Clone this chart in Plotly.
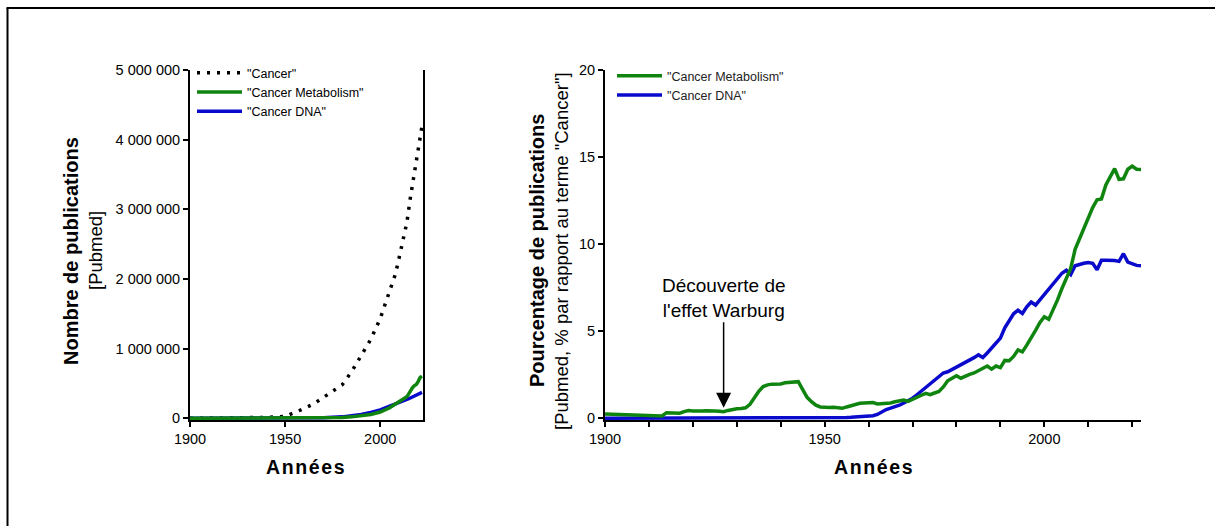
import plotly.graph_objects as go

# ---------------- DATA ----------------
# Right panel: yearly percentages relative to "Cancer" (1900-2022)
years = list(range(1900, 2023))
metab_pct = [
    0.25, 0.24, 0.23, 0.22, 0.21, 0.20, 0.20, 0.19, 0.18, 0.17,   # 1900-1909
    0.16, 0.15, 0.14, 0.13, 0.32, 0.31, 0.30, 0.29, 0.38, 0.44,   # 1910-1919
    0.42, 0.40, 0.42, 0.43, 0.44, 0.42, 0.40, 0.38, 0.45, 0.51,   # 1920-1929
    0.55, 0.56, 0.60, 0.80, 1.20, 1.55, 1.82, 1.92, 1.96, 1.96,   # 1930-1939
    1.97, 2.04, 2.06, 2.08, 2.10, 1.65, 1.20, 0.95, 0.75, 0.65,   # 1940-1949
    0.61, 0.62, 0.63, 0.60, 0.57, 0.65, 0.72, 0.80, 0.86, 0.88,   # 1950-1959
    0.91, 0.90, 0.82, 0.83, 0.85, 0.88, 0.95, 1.00, 1.05, 0.97,   # 1960-1969
    1.10, 1.22, 1.32, 1.43, 1.35, 1.45, 1.54, 1.80, 2.15, 2.30,   # 1970-1979
    2.44, 2.30, 2.42, 2.52, 2.60, 2.75, 2.88, 3.00, 2.82, 3.00,   # 1980-1989
    2.91, 3.32, 3.30, 3.55, 3.92, 3.81, 4.20, 4.60, 5.05, 5.50,   # 1990-1999
    5.83, 5.68, 6.20, 6.80, 7.45, 8.00, 8.60, 9.70, 10.30, 10.90, # 2000-2009
    11.50, 12.10, 12.55, 12.60, 13.40, 13.90, 14.34, 13.72, 13.75, 14.30,  # 2010-2019
    14.48, 14.30, 14.29,                                          # 2020-2022
]
dna_pct = [
    0.00, 0.00, 0.00, 0.00, 0.00, 0.00, 0.00, 0.00, 0.00, 0.00,   # 1900-1909
    0.00, 0.00, 0.00, 0.00, 0.00, 0.00, 0.00, 0.00, 0.00, 0.00,   # 1910-1919
    0.00, 0.00, 0.00, 0.00, 0.00, 0.00, 0.00, 0.00, 0.00, 0.00,   # 1920-1929
    0.00, 0.00, 0.00, 0.00, 0.00, 0.00, 0.00, 0.00, 0.00, 0.00,   # 1930-1939
    0.00, 0.00, 0.00, 0.00, 0.00, 0.00, 0.00, 0.00, 0.00, 0.01,   # 1940-1949
    0.02, 0.02, 0.03, 0.03, 0.04, 0.05, 0.06, 0.07, 0.08, 0.10,   # 1950-1959
    0.12, 0.15, 0.22, 0.38, 0.50, 0.58, 0.65, 0.75, 0.88, 1.00,   # 1960-1969
    1.15, 1.35, 1.55, 1.75, 1.95, 2.15, 2.35, 2.60, 2.67, 2.80,   # 1970-1979
    2.95, 3.08, 3.20, 3.33, 3.48, 3.64, 3.49, 3.75, 4.02, 4.30,   # 1980-1989
    4.60, 5.20, 5.65, 6.00, 6.20, 6.02, 6.40, 6.67, 6.50, 6.80,   # 1990-1999
    7.10, 7.42, 7.75, 8.05, 8.33, 8.50, 8.25, 8.76, 8.85, 8.90,   # 2000-2009
    8.95, 8.90, 8.53, 9.07, 9.08, 9.08, 9.06, 9.01, 9.45, 8.97,   # 2010-2019
    8.85, 8.78, 8.76,                                             # 2020-2022
]

# Left panel: cumulative publication counts (PubMed)
cancer_years = [1900, 1920, 1940, 1950, 1955, 1960, 1965, 1970, 1975, 1980,
                1985, 1990, 1995, 2000, 2005, 2008, 2010, 2012, 2014, 2016,
                2018, 2020, 2022]
cancer_counts = [0, 4000, 12000, 25000, 80000, 140000, 205000, 300000, 380000, 480000,
                 670000, 890000, 1130000, 1430000, 1830000, 2070000, 2310000, 2570000,
                 2810000, 3190000, 3530000, 3870000, 4200000]

metab_years = [1900, 1950, 1960, 1970, 1975, 1980, 1985, 1990, 1995, 2000,
               2005, 2008, 2010, 2012, 2014, 2015, 2016, 2017, 2018, 2019,
               2020, 2021, 2022]
metab_counts = [0, 1000, 2000, 4000, 6000, 12000, 20000, 32000, 55000, 90000,
                150000, 205000, 240000, 275000, 310000, 350000, 400000, 440000,
                470000, 486000, 530000, 585000, 605000]

dna_years = [1900, 1950, 1960, 1970, 1980, 1985, 1990, 1995, 2000, 2005,
             2010, 2015, 2018, 2020, 2022]
dna_counts = [0, 1000, 3000, 8000, 20000, 35000, 55000, 85000, 120000, 175000,
              225000, 280000, 320000, 345000, 371000]

x_tickvals = [1900, 1950, 2000]
left_y_tickvals = [0, 1000000, 2000000, 3000000, 4000000, 5000000]
left_y_ticktext = ["0", "1 000 000", "2 000 000", "3 000 000", "4 000 000", "5 000 000"]
right_y_tickvals = [0, 5, 10, 15, 20]

names = ['"Cancer"', '"Cancer Metabolism"', '"Cancer DNA"']

# ---------------- STYLE ----------------
W, H = 1215, 526
FONT = "Liberation Sans, Arial, sans-serif"
GREEN = "#0f850f"
BLUE = "#0a0acc"


def px_x(p):
    return p / W


def px_y(p):
    return 1 - p / H


fig = go.Figure()

fig.add_trace(go.Scatter(x=cancer_years, y=cancer_counts, mode="lines", name=names[0],
                         line=dict(color="black", width=3.5, dash="3px,7px"),
                         xaxis="x", yaxis="y", legend="legend", legendrank=1))
fig.add_trace(go.Scatter(x=dna_years, y=dna_counts, mode="lines", name=names[2],
                         line=dict(color=BLUE, width=3.5),
                         xaxis="x", yaxis="y", legend="legend", legendrank=3))
fig.add_trace(go.Scatter(x=metab_years, y=metab_counts, mode="lines", name=names[1],
                         line=dict(color=GREEN, width=3.5),
                         xaxis="x", yaxis="y", legend="legend", legendrank=2))

fig.add_trace(go.Scatter(x=years, y=dna_pct, mode="lines", name=names[2],
                         line=dict(color=BLUE, width=3.5),
                         xaxis="x2", yaxis="y2", legend="legend2", legendrank=2))
fig.add_trace(go.Scatter(x=years, y=metab_pct, mode="lines", name=names[1],
                         line=dict(color=GREEN, width=3.5),
                         xaxis="x2", yaxis="y2", legend="legend2", legendrank=1))

axis_common = dict(showline=True, linewidth=2, linecolor="black", ticks="outside",
                   ticklen=5, tickwidth=1.5, tickcolor="black", showgrid=False,
                   zeroline=False, automargin=False,
                   tickfont=dict(family=FONT, size=14.5, color="black"))

ydom = [px_y(420), px_y(70)]

fig.update_layout(
    width=W, height=H,
    autosize=False,
    margin=dict(l=0, r=0, t=0, b=0, pad=0, autoexpand=False),
    paper_bgcolor="white", plot_bgcolor="white",
    font=dict(family=FONT, color="black"),
    xaxis=dict(domain=[px_x(190), px_x(423)], range=[1900, 2022.5],
               tickvals=x_tickvals, anchor="y", **axis_common),
    yaxis=dict(domain=ydom, range=[-25000, 5000000], tickvals=left_y_tickvals,
               ticktext=left_y_ticktext, anchor="x", mirror=True, **axis_common),
    xaxis2=dict(domain=[px_x(605), px_x(1141)], range=[1900, 2022],
                tickvals=x_tickvals, anchor="y2",
                minor=dict(dtick=10, tick0=1900, ticks="outside", ticklen=5,
                           tickwidth=1.5, tickcolor="black"),
                **axis_common),
    yaxis2=dict(domain=ydom, range=[-0.1, 20], tickvals=right_y_tickvals,
                anchor="x2", **axis_common),
    legend=dict(x=px_x(192), y=px_y(58), xanchor="left", yanchor="top",
                bgcolor="rgba(0,0,0,0)", font=dict(family=FONT, size=12.5, color="black"),
                tracegroupgap=0, itemwidth=45, traceorder="normal"),
    legend2=dict(x=px_x(612), y=px_y(61), xanchor="left", yanchor="top",
                 bgcolor="rgba(0,0,0,0)", font=dict(family=FONT, size=12.5, color="#222"),
                 tracegroupgap=0, itemwidth=45, traceorder="normal"),
    showlegend=True,
)

hs = "\u200a"
annees = "<b>" + hs.join("Années") + "</b>"

# axis titles as annotations
ann = [
    dict(text="<b>Nombre de publications</b>", x=px_x(71), y=px_y(251), textangle=-90,
         font=dict(size=20)),
    dict(text="[Pubmed]", x=px_x(95), y=px_y(251), textangle=-90, font=dict(size=18.5)),
    dict(text="<b>Pourcentage de publications</b>", x=px_x(537), y=px_y(251), textangle=-90,
         font=dict(size=20)),
    dict(text='[Pubmed, % par rapport au terme "Cancer"]', x=px_x(561), y=px_y(251),
         textangle=-90, font=dict(size=18.5)),
    dict(text=annees, x=px_x(306), y=px_y(467), font=dict(size=19.5)),
    dict(text=annees, x=px_x(873), y=px_y(467), font=dict(size=19.5)),
]
for a in ann:
    fig.add_annotation(xref="paper", yref="paper", showarrow=False,
                       xanchor="center", yanchor="middle", **a)

fig.add_annotation(xref="x2", yref="y2", x=1927, y=0.6, axref="pixel", ayref="pixel",
                   ax=0, ay=-110, text="Découverte de<br>l'effet Warburg",
                   showarrow=True, arrowhead=2, arrowsize=2, arrowwidth=1.5,
                   arrowcolor="black", font=dict(size=19, color="black"))

# figure frame
fig.add_shape(type="line", xref="paper", yref="paper", x0=px_x(7.5), x1=px_x(7.5),
              y0=0, y1=px_y(8), line=dict(color="black", width=2))
fig.add_shape(type="line", xref="paper", yref="paper", x0=px_x(6.5), x1=1,
              y0=px_y(8), y1=px_y(8), line=dict(color="black", width=2))

fig.write_html("out.html", config={"responsive": False, "displayModeBar": False},
               post_script="document.body.style.margin='0px';"
                           "document.body.style.overflow='hidden';")
